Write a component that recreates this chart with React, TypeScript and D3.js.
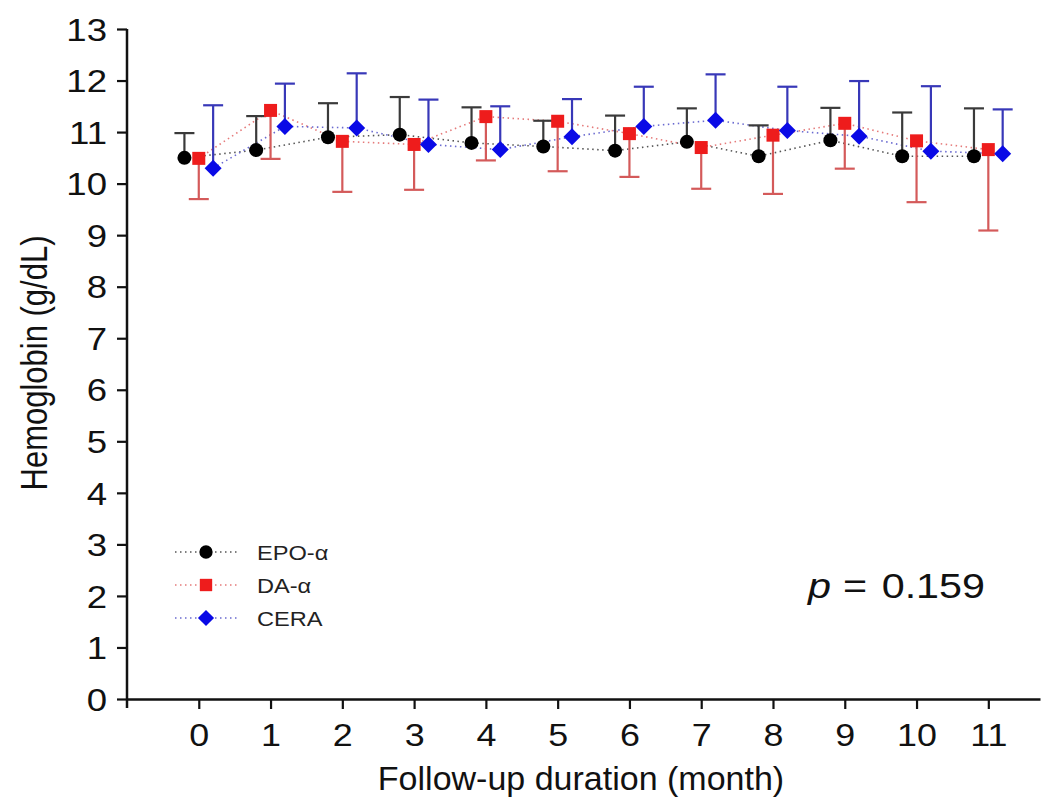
import React, { useEffect, useRef } from "react";
import * as d3 from "d3";

// follow-up months on the x axis
const months = [0, 1, 2, 3, 4, 5, 6, 7, 8, 9, 10, 11];
const yTicks = [0, 1, 2, 3, 4, 5, 6, 7, 8, 9, 10, 11, 12, 13];

// mean hemoglobin (g/dL) and SD per group
const epoMean = [10.5, 10.65, 10.9, 10.95, 10.79, 10.72, 10.64, 10.81, 10.53, 10.84, 10.53, 10.53];
const epoSd = [0.48, 0.66, 0.66, 0.73, 0.69, 0.5, 0.68, 0.65, 0.6, 0.63, 0.85, 0.93];
const daMean = [10.49, 11.42, 10.82, 10.76, 11.3, 11.21, 10.97, 10.7, 10.94, 11.17, 10.83, 10.66];
const daSd = [0.79, 0.94, 0.98, 0.88, 0.85, 0.97, 0.84, 0.8, 1.14, 0.88, 1.19, 1.57];
const ceraMean = [10.3, 11.11, 11.08, 10.76, 10.66, 10.91, 11.11, 11.23, 11.03, 10.92, 10.63, 10.58];
const ceraSd = [1.22, 0.83, 1.06, 0.87, 0.84, 0.73, 0.77, 0.89, 0.85, 1.07, 1.26, 0.86];

const seriesNames = ["EPO-\u03b1", "DA-\u03b1", "CERA"];
const pValue = "0.159";

const FONT = "'Liberation Sans', Arial, sans-serif";
const SX = 1.18; // the source figure is a bit stretched sideways

export default function App() {
  const ref = useRef<SVGSVGElement>(null);

  useEffect(() => {
    const svg = d3.select(ref.current);
    svg.selectAll("*").remove();

    const x = d3.scaleLinear().domain([-1, 11.72]).range([127, 1040]);
    const y = d3.scaleLinear().domain([0, 13]).range([699, 29]);

    const series = [
      { name: seriesNames[0], mean: epoMean, sd: epoSd, dx: -0.2, dir: 1, fill: "#000000", bar: "#3a3a3a", dot: "#555555", shape: "circle" },
      { name: seriesNames[1], mean: daMean, sd: daSd, dx: 0, dir: -1, fill: "#ee1c1c", bar: "#d45a5a", dot: "#e57a7a", shape: "square" },
      { name: seriesNames[2], mean: ceraMean, sd: ceraSd, dx: 0.2, dir: 1, fill: "#0a0ae6", bar: "#3838b8", dot: "#6a6ad0", shape: "diamond" },
    ];

    const symbolFor = (shape: string, k = 1) => {
      if (shape === "circle") return d3.symbol(d3.symbolCircle, Math.PI * 49 * k * k)();
      if (shape === "square") return d3.symbol(d3.symbolSquare, 169 * k * k)();
      const r = 8.5 * k;
      const p = d3.path();
      p.moveTo(0, -r); p.lineTo(r, 0); p.lineTo(0, r); p.lineTo(-r, 0); p.closePath();
      return p.toString();
    };

    // dotted connecting lines
    series.forEach((s) => {
      const line = d3.line<number>()
        .x((d, i) => x(months[i] + s.dx))
        .y((d) => y(d));
      svg.append("path")
        .attr("d", line(s.mean))
        .attr("fill", "none")
        .attr("stroke", s.dot)
        .attr("stroke-width", 1.6)
        .attr("stroke-dasharray", "1.5 3.5");
    });

    // error bars (one-sided)
    series.forEach((s) => {
      const g = svg.append("g");
      s.mean.forEach((m, i) => {
        const cx = x(months[i] + s.dx);
        const end = y(m + s.dir * s.sd[i]);
        g.append("line")
          .attr("x1", cx).attr("x2", cx)
          .attr("y1", y(m)).attr("y2", end)
          .attr("stroke", s.bar).attr("stroke-width", 2.2);
        g.append("line")
          .attr("x1", cx - 10).attr("x2", cx + 10)
          .attr("y1", end).attr("y2", end)
          .attr("stroke", s.bar).attr("stroke-width", 2.2);
      });
    });

    // markers
    series.forEach((s) => {
      svg.append("g")
        .selectAll("path")
        .data(s.mean)
        .enter()
        .append("path")
        .attr("d", symbolFor(s.shape))
        .attr("transform", (d, i) => `translate(${x(months[i] + s.dx)},${y(d)})`)
        .attr("fill", s.fill);
    });

    // axes
    const yAxis = svg.append("g")
      .attr("transform", `translate(${x(-1)},0)`)
      .call(d3.axisLeft(y).tickValues(yTicks).tickSize(10).tickSizeOuter(0).tickPadding(10));
    yAxis.select(".domain").attr("d", `M0,${y(13)}V${y(0) + 9}`);

    const xAxis = svg.append("g")
      .attr("transform", `translate(0,${y(0)})`)
      .call(d3.axisBottom(x).tickValues(months).tickSize(10).tickSizeOuter(0).tickPadding(8));

    [yAxis, xAxis].forEach((a) => {
      a.select(".domain").attr("stroke", "#111").attr("stroke-width", 2.5);
      a.selectAll(".tick line").attr("stroke-width", 2.2).attr("stroke", "#111");
      a.selectAll(".tick text")
        .attr("font-family", FONT)
        .attr("font-size", 31)
        .attr("fill", "#111");
    });
    yAxis.selectAll(".tick text")
      .attr("x", -20 / SX)
      .attr("dy", "0.36em")
      .attr("transform", `scale(${SX},1)`);
    xAxis.selectAll(".tick text")
      .attr("font-size", 32)
      .attr("dy", "0.9em")
      .attr("transform", `scale(${SX * 0.95},1)`);

    // axis titles
    svg.append("text")
      .attr("transform", `translate(47,363) rotate(-90) scale(1,${SX})`)
      .attr("text-anchor", "middle")
      .attr("font-family", FONT)
      .attr("font-size", 31)
      .attr("fill", "#111")
      .text("Hemoglobin (g/dL)");

    svg.append("text")
      .attr("x", 581)
      .attr("y", 790)
      .attr("text-anchor", "middle")
      .attr("font-family", FONT)
      .attr("font-size", 34)
      .attr("fill", "#111")
      .text("Follow-up duration (month)");

    // p value
    const pg = svg.append("g")
      .attr("font-family", FONT).attr("font-size", 35).attr("fill", "#111");
    pg.append("text")
      .attr("transform", `translate(808,598) scale(${SX},1)`)
      .attr("font-style", "italic")
      .text("p");
    pg.append("text")
      .attr("transform", `translate(843,598) scale(${SX},1)`)
      .text("=");
    pg.append("text")
      .attr("transform", `translate(985,598) scale(${SX},1)`)
      .attr("text-anchor", "end")
      .text(pValue);

    // legend
    const legend = svg.append("g");
    series.forEach((s, i) => {
      const ly = 552 + i * 33;
      legend.append("line")
        .attr("x1", 175).attr("x2", 238)
        .attr("y1", ly).attr("y2", ly)
        .attr("stroke", s.dot).attr("stroke-width", 1.6)
        .attr("stroke-dasharray", "1.5 3.5");
      legend.append("path")
        .attr("d", symbolFor(s.shape, 0.95))
        .attr("transform", `translate(206,${ly})`)
        .attr("fill", s.fill);
      legend.append("text")
        .attr("transform", `translate(257,${ly + 7.5}) scale(${SX},1)`)
        .attr("font-family", FONT).attr("font-size", 20)
        .attr("fill", "#222")
        .text(s.name);
    });
  }, []);

  return (
    <div style={{ position: "absolute", left: 0, top: 0 }}>
      <svg ref={ref} width={1045} height={803} style={{ display: "block", background: "#fff" }}></svg>
    </div>
  );
}
